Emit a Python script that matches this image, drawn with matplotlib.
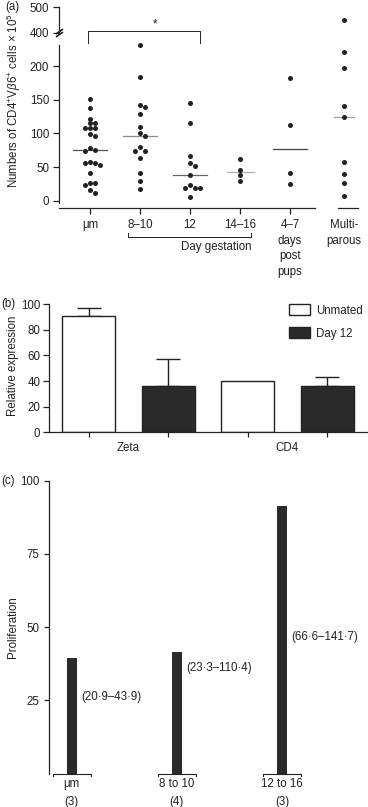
import numpy as np
import matplotlib
matplotlib.use('Agg')
import matplotlib.pyplot as plt
from matplotlib import transforms

FS = 8.3
plt.rcParams['font.family'] = ['Liberation Sans', 'DejaVu Sans']
plt.rcParams['font.size'] = FS
plt.rcParams['mathtext.fontset'] = 'custom'
plt.rcParams['mathtext.rm'] = 'Liberation Sans'
plt.rcParams['mathtext.it'] = 'Liberation Sans:italic'
plt.rcParams['axes.linewidth'] = 0.9
plt.rcParams['text.color'] = '#222222'
plt.rcParams['xtick.color'] = '#222222'
plt.rcParams['ytick.color'] = '#222222'
plt.rcParams['axes.edgecolor'] = '#222222'

# ---------------- data: panel (a) ----------------
groups_a = ['μm', '8–10', '12', '14–16', '4–7\ndays\npost\npups', 'Multi-\nparous']
vals_um = [152, 138, 122, 116, 115, 108, 108, 108, 99, 96, 78, 75, 74, 58, 56.5,
           55.6, 53, 41, 27, 26, 23, 16, 12]
vals_8_10 = [231, 184, 143, 139, 129, 109, 101, 96, 80, 74, 74, 63, 41, 29, 18]
vals_12 = [146, 115, 67, 56.5, 51.6, 38.2, 23.8, 18.9, 18.9, 18.9, 5.5]
vals_14_16 = [61.6, 45.7, 38.7, 28.9]
vals_post = [183, 113, 41, 25]
vals_multi = [449, 221, 198, 140.5, 124.6, 57, 40, 27, 7.4]
series_a = [vals_um, vals_8_10, vals_12, vals_14_16, vals_post, vals_multi]
yticks_lo = [0, 50, 100, 150, 200]
yticks_hi = [400, 500]

# ---------------- data: panel (b) ----------------
genes = ['Zeta', 'CD4']
unmated = [91, 40]
unmated_err = [6, 0]
day12 = [36.4, 36.2]
day12_err = [21, 7]
yticks_b = [0, 20, 40, 60, 80, 100]

# ---------------- data: panel (c) ----------------
prolif_groups = ['μm\n(3)', '8 to 10\n(4)', '12 to 16\n(3)']
prolif = [39.4, 41.7, 91.4]
prolif_ranges = ['(20·9–43·9)', '(23·3–110·4)', '(66·6–141·7)']
yticks_c = [25, 50, 75, 100]

# ---------------- layout / style ----------------
W, H = 368, 807
DARK = '#222222'
BAR = '#2a2a2a'
pos_a = [0, 1, 2, 3, 4, 5.08]
median_half = [0.34, 0.34, 0.34, 0.27, 0.34, 0.2]
median_col = ['#555555', '#8a8a8a', '#666666', '#aab0b8', '#444444', '#9aa0aa']
range_label_y = [26.1, 36, 46.5]


def axrect(l, t, r, b):
    return [l / W, 1 - b / H, (r - l) / W, (b - t) / H]


def fx(px):
    return px / W


def fy(py):
    return 1 - py / H


def swarm(vals, ppu_y, ppu_x, d=4.6, step=5.0):
    placed, offs = [], []
    for v in vals:
        y = v * ppu_y
        for k in [0, 1, -1, 2, -2, 3, -3]:
            x = k * step
            if all((x - px) ** 2 + (y - py) ** 2 >= d * d for px, py in placed):
                break
        placed.append((x, y))
        offs.append(x / ppu_x)
    return offs


fig = plt.figure(figsize=(W / 100, H / 100), dpi=100)

# ================= Panel (a) =================
ax_lo = fig.add_axes(axrect(59.3, 39.4, 368, 202.7))
ax_hi = fig.add_axes(axrect(59.3, 6.0, 368, 35.2))
ax_hi.patch.set_visible(False)
xl = (-0.614, 5.56)
for ax in (ax_lo, ax_hi):
    ax.set_xlim(*xl)
    for s in ('top', 'right'):
        ax.spines[s].set_visible(False)
    ax.tick_params(axis='y', length=4.3, width=0.9, pad=3, labelsize=FS)
ax_lo.set_ylim(-3, 240)
ax_hi.set_ylim(390, 505)
ax_lo.spines['left'].set_bounds(-3, 231)
ax_hi.spines['left'].set_bounds(400, 500)
ax_hi.spines['bottom'].set_visible(False)
ax_hi.set_xticks([])
ax_lo.set_yticks(yticks_lo)
ax_hi.set_yticks(yticks_hi)

for i, vals in enumerate(series_a):
    offs = swarm(vals, 0.672, 50.0)
    xs = np.array(offs) + pos_a[i]
    v = np.array(vals)
    lo = v <= 240
    ax_lo.scatter(xs[lo], v[lo], s=13, color=DARK, linewidths=0, zorder=3, clip_on=False)
    if (~lo).any():
        ax_hi.scatter(xs[~lo], v[~lo], s=13, color=DARK, linewidths=0, zorder=3, clip_on=False)
    med = np.median(vals)
    ax_lo.plot([pos_a[i] - median_half[i], pos_a[i] + median_half[i]], [med, med],
               color=median_col[i], lw=0.9, zorder=2)

# break marks
btr = transforms.blended_transform_factory(ax_hi.transAxes, ax_hi.transData)
for yb in (407, 394):
    ax_hi.plot([0], [yb], marker=[(-1, -0.7), (1, 0.7)], markersize=5, mew=1.2,
               color=DARK, linestyle='none', transform=btr, clip_on=False)

# x axis
ax_lo.spines['bottom'].set_position(('outward', 3.8))
ax_lo.spines['bottom'].set_bounds(xl[0], 4.5)
ax_lo.set_xticks(pos_a)
ax_lo.set_xticklabels(groups_a, linespacing=1.42, va='top')
ax_lo.tick_params(axis='x', length=4.3, width=0.9, pad=3.5, labelsize=FS)
ax_lo.xaxis.get_major_ticks()[5].tick1line.set_visible(False)
btr_lo = transforms.blended_transform_factory(ax_lo.transData, ax_lo.transAxes)
ax_lo.plot([4.96, 5.36], [-0.0325, -0.0325], color=DARK, lw=0.9,
           transform=btr_lo, clip_on=False)
# Day gestation bracket
ax_lo.plot([0.76, 0.76, 3.22, 3.22], [-0.184, -0.208, -0.208, -0.184], color=DARK, lw=0.7,
           transform=btr_lo, clip_on=False)
ax_lo.text(2.52, -0.273, 'Day gestation', ha='center', va='center', fontsize=FS,
           transform=btr_lo)
# significance bracket
ax_lo.plot([-0.04, -0.04, 2.2, 2.2], [235, 252.5, 252.5, 235], color=DARK, lw=0.7,
           clip_on=False)
ax_lo.text(1.3, 254, '*', ha='center', va='bottom', fontsize=FS)

fig.text(fx(14), fy(101),
         r'Numbers of CD4$^{+}$V$\it{\beta}$6$^{+}$ cells $\times$ 10$^{5}$',
         rotation=90, ha='center', va='center', fontsize=FS)
fig.text(fx(5), fy(7.3), '(a)', ha='left', va='center', fontsize=FS)

# ================= Panel (b) =================
ax_b = fig.add_axes(axrect(49, 304.3, 367, 432.3))
xb = np.arange(len(genes))
w = 0.333
ax_b.bar(xb - 0.25, unmated, width=w, color='white', edgecolor=DARK, linewidth=1.0,
         label='Unmated', zorder=2)
ax_b.bar(xb + 0.25, day12, width=w, color=BAR, edgecolor=DARK, linewidth=1.0,
         label='Day 12', zorder=2)
for x, v, e in zip(xb - 0.25, unmated, unmated_err):
    if e > 0:
        ax_b.errorbar([x], [v], yerr=[[0], [e]], fmt='none', ecolor=DARK, elinewidth=1.0,
                      capsize=8.6, capthick=1.0, zorder=1)
for x, v, e in zip(xb + 0.25, day12, day12_err):
    if e > 0:
        ax_b.errorbar([x], [v], yerr=[[0], [e]], fmt='none', ecolor=DARK, elinewidth=1.0,
                      capsize=8.6, capthick=1.0, zorder=1)
ax_b.set_xlim(-0.5, 1.5)
ax_b.set_ylim(0, 100)
ax_b.set_yticks(yticks_b)
for s in ('top', 'right'):
    ax_b.spines[s].set_visible(False)
ax_b.set_xticks(xb)
ax_b.set_xticklabels(genes)
ax_b.set_xticks(np.concatenate([xb - 0.25, xb + 0.25]), minor=True)
ax_b.tick_params(axis='x', which='major', length=0, pad=7, labelsize=FS)
ax_b.tick_params(axis='x', which='minor', length=3.3, width=0.9)
ax_b.tick_params(axis='y', length=4.3, width=0.9, pad=2, labelsize=FS)
ax_b.legend(loc='upper left', bbox_to_anchor=(0.755, 1.0), frameon=False,
            borderpad=0, borderaxespad=0, handlelength=1.85, handleheight=1.1,
            labelspacing=0.9, handletextpad=0.5, fontsize=FS)
fig.text(fx(12.7), fy(366), 'Relative expression', rotation=90, ha='center',
         va='center', fontsize=FS)
fig.text(fx(1), fy(304.3), '(b)', ha='left', va='center', fontsize=FS)

# ================= Panel (c) =================
ax_c = fig.add_axes(axrect(49.3, 480.7, 340, 773.7))
xc = np.arange(len(prolif))
wc = 0.098
ax_c.bar(xc, prolif, width=wc, color=BAR, edgecolor='none', zorder=2)
ax_c.set_xlim(-0.213, 2.552)
ax_c.set_ylim(0, 100)
ax_c.set_yticks(yticks_c)
for s in ('top', 'right', 'bottom'):
    ax_c.spines[s].set_visible(False)
ax_c.set_xticks(xc)
ax_c.set_xticklabels(prolif_groups, linespacing=1.7)
ax_c.tick_params(axis='x', length=0, pad=3, labelsize=FS)
ax_c.tick_params(axis='y', length=3.6, width=0.9, pad=3.6, labelsize=FS)
for x in xc:
    ax_c.plot([x - 0.18, x - 0.18, x + 0.18, x + 0.18], [-0.7, 0, 0, -0.7],
              color=DARK, lw=0.8, clip_on=False)
for x, lab, yl in zip(xc, prolif_ranges, range_label_y):
    ax_c.annotate(lab, xy=(x + wc / 2, yl), xytext=(3, 0), textcoords='offset points',
                  ha='left', va='center', fontsize=FS)
fig.text(fx(13.3), fy(627), 'Proliferation', rotation=90, ha='center', va='center',
         fontsize=FS)
fig.text(fx(1), fy(481), '(c)', ha='left', va='center', fontsize=FS)

fig.savefig('out.png', dpi=100)
